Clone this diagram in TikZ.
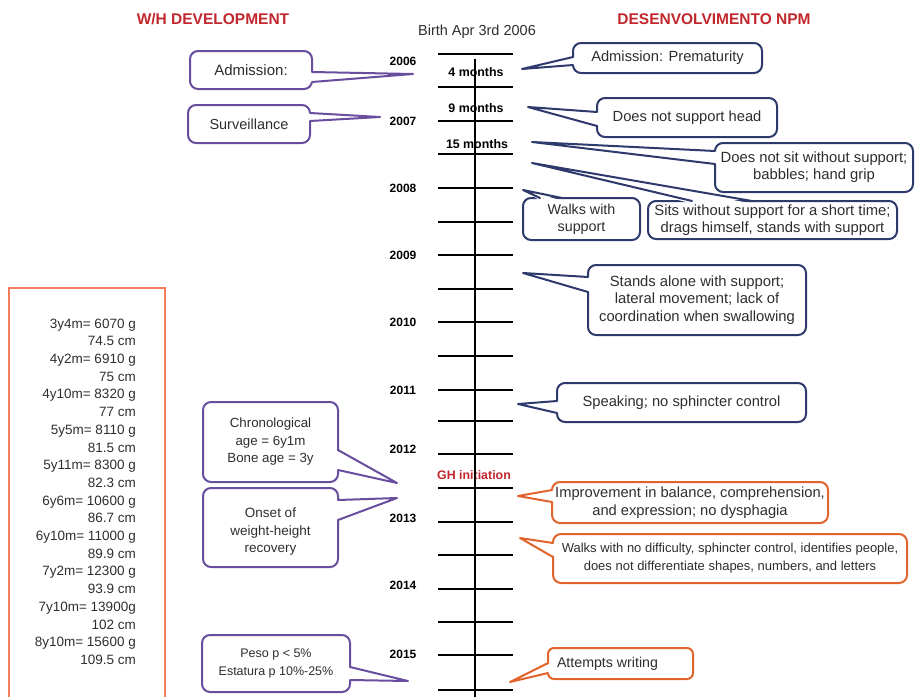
\documentclass[tikz,border=0pt]{standalone}
\usepackage{fontspec}
\setmainfont{Liberation Sans}
\usetikzlibrary{calc}
\definecolor{hdr}{HTML}{C1272D}
\definecolor{purp}{HTML}{6A4E9E}
\definecolor{navy}{HTML}{2E3A6C}
\definecolor{orng}{HTML}{E2642D}
\definecolor{salmon}{HTML}{F47C5C}
\definecolor{txt}{HTML}{2E2E2E}
\newcommand\fs[2]{\fontsize{#1}{#2}\selectfont}
% pointer: colour, base a, tip, base b, inward shift
\newcommand\ptr[5]{%
  \fill[white] ($(#2)+#5$) -- (#3) -- ($(#4)+#5$) -- cycle;
  \draw[#1, line width=2pt, line join=round, line cap=round] (#2) -- (#3) -- (#4);
}
\begin{document}
\begin{tikzpicture}[x=1pt,y=-1pt,
  cbox/.style={draw, line width=2pt, rounded corners=8pt, fill=white, align=center,
    inner sep=0pt, outer sep=0pt, text=txt},
  pbox/.style={cbox, draw=purp},
  nbox/.style={cbox, draw=navy},
  obox/.style={cbox, draw=orng},
  yearlab/.style={font=\bfseries\fs{12}{14}, text=black, inner sep=0pt},
  monlab/.style={font=\bfseries\fs{12.4}{14}, text=black, inner sep=0pt},
  headlab/.style={font=\bfseries\fs{15.5}{18}, text=hdr, inner sep=0pt},
  tickline/.style={line width=2.7pt, black},
]
\useasboundingbox (0,0) rectangle (917,696);

% headers
\node[headlab] (h1) at (213,19) {W/H DEVELOPMENT};
\node[headlab] (h2) at (714,19) {DESENVOLVIMENTO NPM};
\node[font=\fs{14.5}{17}, text=txt, inner sep=0pt] (birth) at (477,32) {Birth Apr 3rd 2006};

% left data box
\node[draw=salmon, line width=1.4pt, minimum width=156pt, minimum height=420pt,
  anchor=north west, inner sep=0pt, outer sep=0pt] (whbox) at (9,288) {};
\node[anchor=north east, align=right, inner sep=0pt, text=txt, font=\fs{13.5}{17.7}] (whtext) at (136,318.5)
 {3y4m= 6070 g\\74.5 cm\\4y2m= 6910 g\\75 cm\\4y10m= 8320 g\hspace{4pt}\\77 cm\\5y5m= 8110 g\\81.5 cm\\
  5y11m= 8300 g\\82.3 cm\\6y6m= 10600 g\\86.7 cm\\6y10m= 11000 g\\89.9 cm\\7y2m= 12300 g\\93.9 cm\\
  7y10m= 13900g\\102 cm\\8y10m= 15600 g\\109.5 cm};

% year labels
\node[yearlab] (y06) at (403,61) {2006};
\node[yearlab] (y07) at (403,121) {2007};
\node[yearlab] (y08) at (403,188) {2008};
\node[yearlab] (y09) at (403,255) {2009};
\node[yearlab] (y10) at (403,322) {2010};
\node[yearlab] (y11) at (403,390) {2011};
\node[yearlab] (y12) at (403,449) {2012};
\node[yearlab] (y13) at (403,518) {2013};
\node[yearlab] (y14) at (403,585) {2014};
\node[yearlab] (y15) at (403,654) {2015};

% month labels
\node[monlab] (m4) at (476,72) {4 months};
\node[monlab] (m9) at (476,108) {9 months};
\node[monlab] (m15) at (477,144) {15 months};
\node[monlab, text=hdr] (gh) at (474,475) {GH initiation};

% timeline
\foreach \yy in {54,87,121,154,188,222,255,289,322,356,390,421,454,488,522,555,589,622,655,690}
  \draw[tickline] (438,\yy) -- (513,\yy);
\draw[line width=2.3pt] (475,59) -- (475,700);

% left callouts
\node[pbox, minimum width=122pt, minimum height=38pt, font=\fs{15}{17.5}] (L1) at (251,70) {Admission:};
\node[pbox, minimum width=122pt, minimum height=38pt, font=\fs{14.5}{17.5}] (L2) at (249,124) {Surveillance};
\node[pbox, minimum width=135pt, minimum height=80pt, font=\fs{13.3}{17.5}] (L3) at (270.5,442) {Chronological\\age = 6y1m\\Bone age = 3y};
\node[pbox, minimum width=135pt, minimum height=79pt, font=\fs{13.5}{17.5}] (L4) at (270.5,527.5) {\rule{0pt}{18pt}Onset of\\weight-height\\recovery};
\node[pbox, minimum width=148pt, minimum height=57pt, font=\fs{12.5}{18}] (L5) at (276,663.5) {Peso p < 5\%\\Estatura p 10\%-25\%};

% right callouts (navy)
\node[nbox, minimum width=189pt, minimum height=30pt, font=\fs{14.7}{17}] (R1) at (667.5,58) {Admission: Prematurity};
\node[nbox, minimum width=180pt, minimum height=39pt, font=\fs{14.7}{17}] (R2) at (687,117.5) {Does not support head};
\node[nbox, minimum width=198pt, minimum height=49pt, font=\fs{14.8}{17}] (R3) at (814,167.5) {Does not sit without support;\\babbles; hand grip};
\node[nbox, minimum width=249pt, minimum height=38pt, font=\fs{14.8}{16.7}] (R4) at (772.5,220) {Sits without support for a short time;\\drags himself, stands with support};
\node[nbox, minimum width=117pt, minimum height=42pt, font=\fs{14.3}{17}] (R5) at (581.5,219) {Walks with\\support};
\node[nbox, minimum width=218pt, minimum height=70pt, font=\fs{14.8}{17.7}] (R6) at (697,300) {Stands alone with support;\\lateral movement; lack of\\coordination when swallowing};
\node[nbox, minimum width=249pt, minimum height=39pt, font=\fs{14.7}{17}] (R7) at (681.5,402.5) {Speaking; no sphincter control};

% orange callouts
\node[obox, minimum width=276pt, minimum height=41pt, font=\fs{14.7}{18}] (O1) at (690,502.5) {Improvement in balance, comprehension,\\and expression; no dysphagia};
\node[obox, minimum width=354pt, minimum height=49pt, font=\fs{13}{18}] (O2) at (730,558.5) {Walks with no difficulty, sphincter control, identifies people,\\does not differentiate shapes, numbers, and letters};
\node[obox, rounded corners=6pt, minimum width=145pt, minimum height=31pt, font=\fs{14.2}{17}] (O3) at (620.5,663.5) {Attempts writing\hspace{26pt}};

% pointer tips and bases
\coordinate (L1t) at (413,74);
\coordinate (L1a) at ($(L1.north east)+(0,21)$);
\coordinate (L1b) at ($(L1.north east)+(0,31)$);
\coordinate (L2t) at (380,117);
\coordinate (L2a) at ($(L2.north east)+(0,8)$);
\coordinate (L2b) at ($(L2.north east)+(0,16)$);
\coordinate (L3t) at (397,483);
\coordinate (L3a) at ($(L3.north east)+(0,48)$);
\coordinate (L3b) at ($(L3.north east)+(0,68)$);
\coordinate (L4t) at (397,498);
\coordinate (L4a) at ($(L4.north east)+(0,12)$);
\coordinate (L4b) at ($(L4.north east)+(0,32)$);
\coordinate (L5t) at (408,681);
\coordinate (L5a) at ($(L5.north east)+(0,32)$);
\coordinate (L5b) at ($(L5.north east)+(0,45)$);

\coordinate (R1t) at (522,69);
\coordinate (R1a) at ($(R1.north west)+(0,14)$);
\coordinate (R1b) at ($(R1.north west)+(0,22)$);
\coordinate (R2t) at (528,107);
\coordinate (R2a) at ($(R2.north west)+(0,14)$);
\coordinate (R2b) at ($(R2.north west)+(0,28)$);
\coordinate (R3t) at (532,142);
\coordinate (R3a) at ($(R3.north west)+(0,8)$);
\coordinate (R3b) at ($(R3.north west)+(0,21)$);
\coordinate (R4t) at (532,163);
\coordinate (R4a) at ($(R4.north west)+(44,0)$);
\coordinate (R4b) at ($(R4.north west)+(104,0)$);
\coordinate (R5t) at (523,190);
\coordinate (R5a) at ($(R5.north west)+(17,0)$);
\coordinate (R5b) at ($(R5.north west)+(39,0)$);
\coordinate (R6t) at (523,273);
\coordinate (R6a) at ($(R6.north west)+(0,12)$);
\coordinate (R6b) at ($(R6.north west)+(0,27)$);
\coordinate (R7t) at (518,404);
\coordinate (R7a) at ($(R7.north west)+(0,18)$);
\coordinate (R7b) at ($(R7.north west)+(0,30)$);

\coordinate (O1t) at (518,496);
\coordinate (O1a) at ($(O1.north west)+(0,8)$);
\coordinate (O1b) at ($(O1.north west)+(0,20)$);
\coordinate (O2t) at (520,538);
\coordinate (O2a) at ($(O2.north west)+(0,9)$);
\coordinate (O2b) at ($(O2.north west)+(0,23)$);
\coordinate (O3t) at (510,682);
\coordinate (O3a) at ($(O3.north west)+(0,15)$);
\coordinate (O3b) at ($(O3.north west)+(0,25)$);

% pointers
\ptr{purp}{L1a}{L1t}{L1b}{(-2.5,0)}
\ptr{purp}{L2a}{L2t}{L2b}{(-2.5,0)}
\ptr{purp}{L3a}{L3t}{L3b}{(-2.5,0)}
\ptr{purp}{L4a}{L4t}{L4b}{(-2.5,0)}
\ptr{purp}{L5a}{L5t}{L5b}{(-2.5,0)}
\ptr{navy}{R1a}{R1t}{R1b}{(2.5,0)}
\ptr{navy}{R2a}{R2t}{R2b}{(2.5,0)}
\ptr{navy}{R3a}{R3t}{R3b}{(2.5,0)}
\ptr{navy}{R4a}{R4t}{R4b}{(0,2.5)}
\ptr{navy}{R5a}{R5t}{R5b}{(0,2.5)}
\ptr{navy}{R6a}{R6t}{R6b}{(2.5,0)}
\ptr{navy}{R7a}{R7t}{R7b}{(2.5,0)}
\ptr{orng}{O1a}{O1t}{O1b}{(2.5,0)}
\ptr{orng}{O2a}{O2t}{O2b}{(2.5,0)}
\ptr{orng}{O3a}{O3t}{O3b}{(2.5,0)}
\end{tikzpicture}
\end{document}
